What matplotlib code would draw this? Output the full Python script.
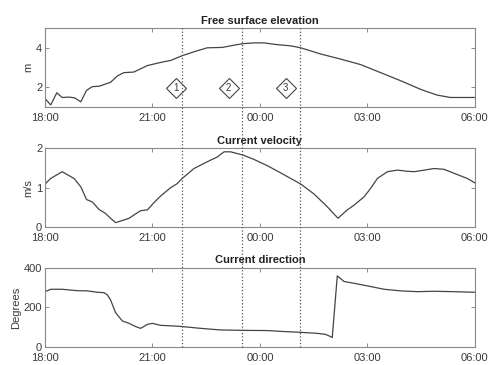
import numpy as np
import matplotlib
matplotlib.use('Agg')
import matplotlib.pyplot as plt
import matplotlib.transforms as mtransforms

plt.rcParams['font.family'] = 'Liberation Sans'

# hours after 18:00
elev_t = [0.0, 0.16, 0.33, 0.48, 0.67, 0.83, 1.0, 1.16, 1.32, 1.51, 1.83, 2.02, 2.2, 2.48,
          2.86, 3.23, 3.51, 3.83, 4.16, 4.53, 4.95, 5.27, 5.52, 5.83, 6.11, 6.49, 6.86,
          7.14, 7.69, 8.25, 8.81, 9.37, 9.93, 10.49, 10.95, 11.32, 12.0]
elev = [1.43, 1.1, 1.72, 1.48, 1.5, 1.46, 1.26, 1.84, 2.03, 2.05, 2.25, 2.57, 2.74, 2.77,
        3.1, 3.26, 3.36, 3.6, 3.8, 4.0, 4.02, 4.13, 4.21, 4.25, 4.25, 4.16, 4.1,
        4.0, 3.69, 3.43, 3.15, 2.74, 2.33, 1.89, 1.6, 1.48, 1.48]

vel_t = [0.0, 0.16, 0.48, 0.81, 1.0, 1.16, 1.32, 1.51, 1.69, 1.83, 1.97, 2.11, 2.35, 2.48,
         2.67, 2.86, 3.04, 3.23, 3.51, 3.69, 3.83, 4.16, 4.53, 4.81, 5.0, 5.18, 5.52,
         5.83, 6.21, 6.58, 6.86, 7.14, 7.51, 7.88, 8.18, 8.44, 8.63, 8.91, 9.09, 9.28,
         9.56, 9.84, 10.12, 10.31, 10.59, 10.86, 11.14, 11.42, 11.79, 12.0]
vel = [1.09, 1.23, 1.40, 1.23, 1.02, 0.70, 0.64, 0.45, 0.35, 0.23, 0.12, 0.16, 0.23, 0.31,
       0.42, 0.44, 0.62, 0.79, 1.0, 1.1, 1.23, 1.48, 1.65, 1.77, 1.9, 1.9, 1.82,
       1.71, 1.55, 1.37, 1.23, 1.09, 0.84, 0.52, 0.23, 0.44, 0.56, 0.77, 0.98, 1.23,
       1.40, 1.44, 1.41, 1.40, 1.44, 1.48, 1.46, 1.36, 1.23, 1.12]

dir_t = [0.0, 0.16, 0.48, 0.9, 1.18, 1.46, 1.65, 1.74, 1.83, 1.97, 2.16, 2.35, 2.53, 2.67,
         2.86, 3.0, 3.23, 3.6, 3.83, 4.35, 4.9, 5.52, 6.21, 6.67, 7.14, 7.6, 7.83, 7.97,
         8.02, 8.16, 8.35, 8.63, 9.0, 9.47, 9.93, 10.4, 10.86, 11.42, 12.0]
direction = [279, 291, 291, 284, 283, 276, 274, 263, 238, 174, 132, 120, 104, 95,
             115, 120, 110, 107, 104, 95, 87, 85, 84, 79, 75, 70, 65, 54,
             49, 358, 330, 321, 308, 291, 283, 279, 281, 279, 276]

events_t = [3.82, 5.5, 7.12]
markers_t = [3.65, 5.13, 6.72]
markers_y = [1.97, 1.97, 1.97]
markers_lbl = ['1', '2', '3']

xticks = [0, 3, 6, 9, 12]
xticklabels = ['18:00', '21:00', '00:00', '03:00', '06:00']

line_col = '#444444'
text_col = '#3a3a3a'

fig = plt.figure(figsize=(4.89, 3.65), dpi=100)
left, width = 0.092, 0.879
ax1 = fig.add_axes([left, 0.707, width, 0.216])
ax2 = fig.add_axes([left, 0.377, width, 0.218])
ax3 = fig.add_axes([left, 0.0485, width, 0.2185])

panels = [
    (ax1, elev_t, elev, 'Free surface elevation', 'm', (1, 5), [2, 4]),
    (ax2, vel_t, vel, 'Current velocity', 'm/s', (0, 2), [0, 1, 2]),
    (ax3, dir_t, direction, 'Current direction', 'Degrees', (0, 400), [0, 200, 400]),
]

for ax, t, v, title, ylab, ylim, yticks in panels:
    ax.plot(t, v, color=line_col, linewidth=0.9)
    ax.set_xlim(0, 12)
    ax.set_ylim(*ylim)
    ax.set_xticks(xticks)
    ax.set_xticklabels(xticklabels)
    ax.set_yticks(yticks)
    ax.set_title(title, fontsize=8, fontweight='bold', color='#222222', pad=3)
    ax.set_ylabel(ylab, fontsize=8, color=text_col, labelpad=2)
    ax.tick_params(direction='in', length=3, width=0.6, colors='#777777',
                   labelcolor=text_col, labelsize=8, top=True, right=True, pad=2)
    ax.tick_params(axis='x', pad=4)
    for s in ax.spines.values():
        s.set_color('#888888')
        s.set_linewidth(0.8)

# dotted event lines spanning all panels
trans = mtransforms.blended_transform_factory(ax3.transData, fig.transFigure)
for et in events_t:
    fig.lines.append(plt.Line2D([et, et], [0.0485, 0.923], transform=trans,
                                color='#555555', linestyle=':', linewidth=0.9))

# numbered diamonds
ax1.plot(markers_t, markers_y, linestyle='none', marker='D', markersize=10.5,
         markerfacecolor='white', markeredgecolor=line_col, markeredgewidth=0.8, zorder=5)
for mt, my, lbl in zip(markers_t, markers_y, markers_lbl):
    ax1.text(mt, my, lbl, ha='center', va='center', fontsize=7, color=text_col, zorder=6)

fig.savefig('out.png', dpi=100)
